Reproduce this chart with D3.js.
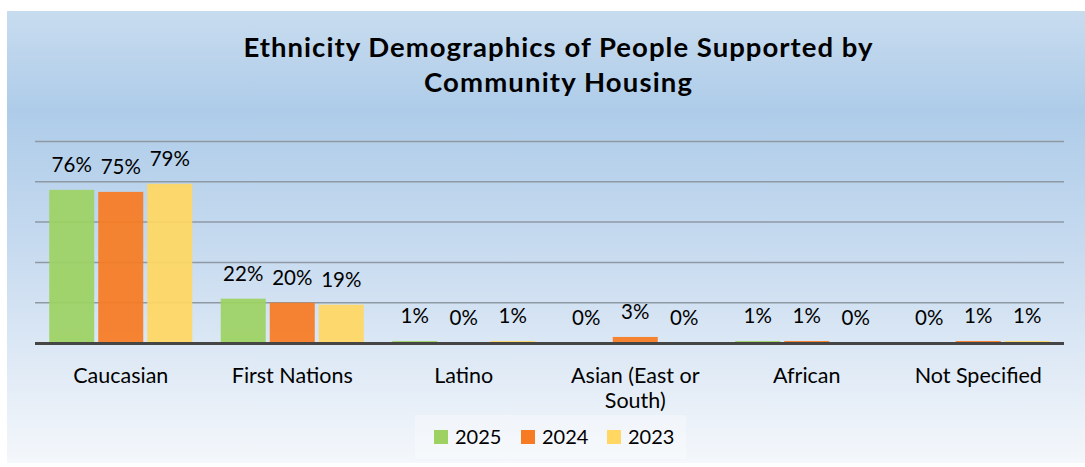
<!DOCTYPE html>
<html>
<head>
<meta charset="utf-8">
<script src="https://cdn.jsdelivr.net/npm/d3@7"></script>
<style>
  html, body { margin: 0; padding: 0; background: #ffffff; }
  svg { display: block; }
  text { font-family: Lato, "Open Sans", sans-serif; fill: #000; }
</style>
</head>
<body>
<svg id="chart" width="1085" height="467"></svg>
<script>
// Ethnicity categories and share (%) per year
const categories = ["Caucasian", "First Nations", "Latino", "Asian (East or South)", "African", "Not Specified"];
const categoryLines = [["Caucasian"], ["First Nations"], ["Latino"], ["Asian (East or", "South)"], ["African"], ["Not Specified"]];
const years = ["2025", "2024", "2023"];
const values2025 = [76, 22, 1, 0, 1, 0];
const values2024 = [75, 20, 0, 3, 1, 1];
const values2023 = [79, 19, 1, 0, 0, 1];
const yTicks = [0, 20, 40, 60, 80, 100];
const colors = ["#9dd263", "#f67b22", "#ffd762"];

const series = [values2025, values2024, values2023];
const svg = d3.select("#chart");

// Background panel with vertical gradient
const defs = svg.append("defs");
const grad = defs.append("linearGradient").attr("id", "bg").attr("x1", 0).attr("y1", 0).attr("x2", 0).attr("y2", 1);
grad.append("stop").attr("offset", "0%").attr("stop-color", "#c8dcef");
grad.append("stop").attr("offset", "22%").attr("stop-color", "#aecce9");
grad.append("stop").attr("offset", "55%").attr("stop-color", "#c9dcf0");
grad.append("stop").attr("offset", "100%").attr("stop-color", "#f4f7fb");
svg.append("rect").attr("x", 7).attr("y", 11).attr("width", 1078).attr("height", 452)
  .attr("fill", "url(#bg)");

// Scales
const x0 = d3.scaleBand().domain(categories).range([35, 1064]).paddingInner(0.166).paddingOuter(0.083);
const x1 = d3.scaleBand().domain(years).range([0, x0.bandwidth()]).paddingInner(0.082).paddingOuter(0);
const y = d3.scaleLinear().domain([0, 100]).range([343, 141.5]);

// Gridlines
svg.append("g").selectAll("line").data(yTicks.filter(t => t > 0)).join("line")
  .attr("x1", 35).attr("x2", 1064)
  .attr("y1", d => y(d)).attr("y2", d => y(d))
  .attr("stroke", "#8e99a4").attr("stroke-width", 1.5);

// Bars
const rows = [];
categories.forEach((c, i) => years.forEach((yr, j) => rows.push({ c, yr, j, v: series[j][i] })));

svg.append("g").selectAll("rect").data(rows).join("rect")
  .attr("x", d => x0(d.c) + x1(d.yr))
  .attr("y", d => y(d.v))
  .attr("width", x1.bandwidth())
  .attr("height", d => y(0) - y(d.v))
  .attr("fill", d => colors[d.j])
  .attr("fill-opacity", 0.93);

// Category axis baseline
svg.append("line").attr("x1", 35).attr("x2", 1064).attr("y1", y(0) + 0.5).attr("y2", y(0) + 0.5)
  .attr("stroke", "#454545").attr("stroke-width", 3);

// Value labels
svg.append("g").selectAll("text").data(rows).join("text")
  .attr("x", d => x0(d.c) + x1(d.yr) + x1.bandwidth() / 2)
  .attr("y", d => y(d.v) - 18)
  .attr("text-anchor", "middle")
  .attr("font-size", 20.5)
  .text(d => d.v + "%");

// Category labels
const catG = svg.append("g").selectAll("text").data(categories).join("text")
  .attr("x", d => x0(d) + x0.bandwidth() / 2)
  .attr("y", 383)
  .attr("text-anchor", "middle")
  .attr("font-size", 21.5);
catG.each(function (d, i) {
  d3.select(this).selectAll("tspan").data(categoryLines[i]).join("tspan")
    .attr("x", x0(d) + x0.bandwidth() / 2)
    .attr("dy", (t, k) => k === 0 ? 0 : 25)
    .text(t => t);
});

// Title
const title = svg.append("text").attr("x", 558).attr("y", 57).attr("text-anchor", "middle")
  .attr("font-size", 27.5).attr("font-weight", "bold");
title.append("tspan").attr("x", 558).attr("textLength", 629).attr("lengthAdjust", "spacing")
  .text("Ethnicity Demographics of People Supported by");
title.append("tspan").attr("x", 558).attr("dy", 35).attr("textLength", 268).attr("lengthAdjust", "spacing")
  .text("Community Housing");

// Legend
const legend = svg.append("g");
legend.append("rect").attr("x", 415).attr("y", 415).attr("width", 271).attr("height", 44)
  .attr("fill", "#ffffff").attr("fill-opacity", 0.3);
const legX = [434, 521, 607];
const items = legend.selectAll("g.item").data(years).join("g").attr("class", "item")
  .attr("transform", (d, i) => `translate(${legX[i]},430)`);
items.append("rect").attr("width", 14).attr("height", 14).attr("fill", (d, i) => colors[i]);
items.append("text").attr("x", 21).attr("y", 14).attr("font-size", 20).text(d => d);
</script>
</body>
</html>
